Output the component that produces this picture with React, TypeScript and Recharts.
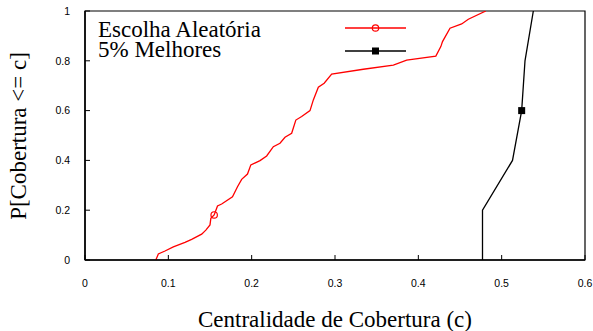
import React from 'react';
import { LineChart, Line, XAxis, YAxis, ReferenceArea, Legend } from 'recharts';

// cumulative distribution of coverage centrality
const xTicks = [0, 0.1, 0.2, 0.3, 0.4, 0.5, 0.6];
const yTicks = [0, 0.2, 0.4, 0.6, 0.8, 1];

const seriesNames = ['Escolha Aleatória', '5% Melhores'];
const seriesColors = ['#ff0000', '#000000'];
const markerKinds = ['circle', 'square'];

const randomX = [
  0.085, 0.088, 0.096, 0.106, 0.12, 0.128, 0.14, 0.145, 0.15, 0.151, 0.155, 0.159, 0.164, 0.177,
  0.183, 0.188, 0.195, 0.199, 0.21, 0.218, 0.226, 0.234, 0.24, 0.248, 0.253, 0.26, 0.27, 0.274,
  0.28, 0.287, 0.296, 0.334, 0.37, 0.386, 0.421, 0.427, 0.429, 0.438, 0.452, 0.46, 0.481,
];
const randomY = [
  0, 0.024, 0.036, 0.053, 0.071, 0.083, 0.104, 0.12, 0.141, 0.167, 0.181, 0.217, 0.225, 0.254,
  0.294, 0.324, 0.345, 0.382, 0.399, 0.418, 0.455, 0.469, 0.493, 0.509, 0.562, 0.576, 0.6, 0.643,
  0.694, 0.71, 0.747, 0.766, 0.783, 0.803, 0.819, 0.857, 0.877, 0.931, 0.948, 0.967, 1,
];
const randomMark = 10;

const bestX = [0.477, 0.477, 0.513, 0.524, 0.528, 0.538];
const bestY = [0, 0.2, 0.4, 0.6, 0.8, 1];
const bestMark = 3;

const toPoints = (xs: number[], ys: number[]) => xs.map((x, i) => ({ x, y: ys[i] }));
const randomData = toPoints(randomX, randomY);
const bestData = toPoints(bestX, bestY);

const serifStyle = { fontFamily: "'Liberation Serif', 'Times New Roman', serif", fontSize: 23 };
const SANS = "'Liberation Sans', Arial, sans-serif";

const drawMarker = (kind: string, color: string, cx: number, cy: number) =>
  kind === 'circle' ? (
    <circle cx={cx} cy={cy} r={3.2} fill="none" stroke={color} strokeWidth={1.2} />
  ) : (
    <rect x={cx - 3.5} y={cy - 3.5} width={7} height={7} fill={color} />
  );

// gnuplot-style: only one point per curve carries a marker
const markerDot = (markIndex: number, kind: string, color: string) => (props: any) => {
  const { cx, cy, index } = props;
  if (index !== markIndex) return <g key={`dot-${index}`} />;
  return <g key={`dot-${index}`}>{drawMarker(kind, color, cx, cy)}</g>;
};

const renderLegend = () => (
  <svg width={593} height={64}>
    {seriesNames.map((name, i) => {
      const y = 28 + i * 23;
      return (
        <g key={name}>
          <text x={98} y={36.5 + i * 20.5} style={serifStyle} fill="#000">
            {name}
          </text>
          <line x1={345} x2={406} y1={y} y2={y} stroke={seriesColors[i]} strokeWidth={1.3} />
          {drawMarker(markerKinds[i], seriesColors[i], 375.5, y)}
        </g>
      );
    })}
  </svg>
);

export default function App() {
  return (
    <div style={{ position: 'absolute', left: 0, top: 0 }}>
      <LineChart width={593} height={331} margin={{ top: 11, right: 8, left: 0, bottom: 0 }}>
        <XAxis
          type="number"
          dataKey="x"
          domain={[0, 0.6]}
          ticks={xTicks}
          allowDataOverflow
          height={71}
          tickSize={-5}
          tickMargin={25}
          stroke="#000"
          axisLine={{ stroke: '#000', strokeWidth: 1.5 }}
          tick={{ fill: '#000', fontSize: 10.5, style: { fontFamily: SANS } }}
          label={{
            content: () => (
              <text x={335} y={327} textAnchor="middle" style={serifStyle} fill="#000">
                Centralidade de Cobertura (c)
              </text>
            ),
          }}
        />
        <YAxis
          type="number"
          dataKey="y"
          domain={[0, 1]}
          ticks={yTicks}
          allowDataOverflow
          width={85}
          tickSize={-5}
          tickMargin={20}
          stroke="#000"
          axisLine={{ stroke: '#000', strokeWidth: 1.5 }}
          tick={{ fill: '#000', fontSize: 10.5, style: { fontFamily: SANS } }}
          label={{
            content: () => (
              <text
                x={26}
                y={136}
                transform="rotate(-90 26 136)"
                textAnchor="middle"
                style={serifStyle}
                fill="#000"
              >
                P[Cobertura &lt;= c]
              </text>
            ),
          }}
        />
        <ReferenceArea x1={0} x2={0.6} y1={0} y2={1} fill="none" stroke="#000" strokeWidth={1.2} />
        <Legend
          content={renderLegend}
          layout="horizontal"
          verticalAlign="middle"
          align="center"
          wrapperStyle={{ top: 0, left: 0, width: 593, height: 64 }}
        />
        <Line
          data={randomData}
          dataKey="y"
          name={seriesNames[0]}
          type="linear"
          stroke={seriesColors[0]}
          strokeWidth={1.3}
          dot={markerDot(randomMark, markerKinds[0], seriesColors[0])}
          activeDot={false}
          isAnimationActive={false}
        />
        <Line
          data={bestData}
          dataKey="y"
          name={seriesNames[1]}
          type="linear"
          stroke={seriesColors[1]}
          strokeWidth={1.3}
          dot={markerDot(bestMark, markerKinds[1], seriesColors[1])}
          activeDot={false}
          isAnimationActive={false}
        />
      </LineChart>
    </div>
  );
}
